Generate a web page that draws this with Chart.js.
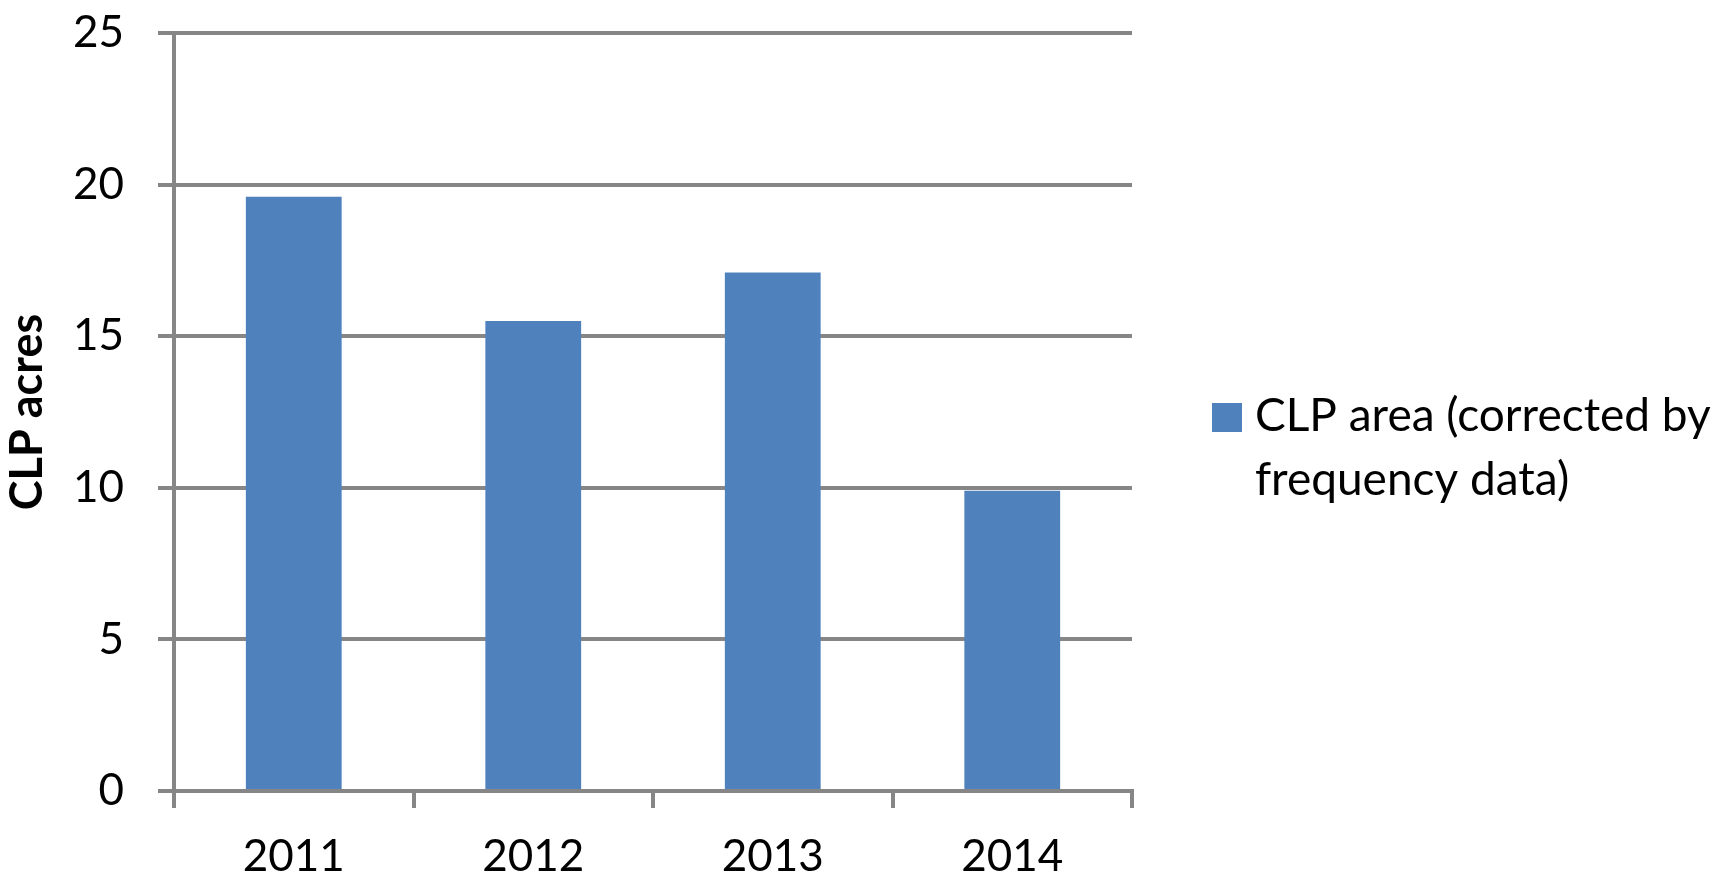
<!DOCTYPE html>
<html>
<head>
<meta charset="utf-8">
<script src="https://cdn.jsdelivr.net/npm/chart.js@4"></script>
<style>
html,body{margin:0;padding:0;background:#fff;}
#wrap{width:1729px;height:886px;position:relative;}
</style>
</head>
<body>
<div id="wrap"><canvas id="c" width="1729" height="886"></canvas></div>
<script>
const categories = ['2011', '2012', '2013', '2014'];
const clpArea = [19.6, 15.5, 17.1, 9.9];
const yTicks = [0, 5, 10, 15, 20, 25];
const seriesLabelLines = ['CLP area (corrected by', 'frequency data)'];
const yTitle = 'CLP acres';

const FONT = 'Lato, "Open Sans", sans-serif';
const GRID = '#868686';
const BAR = '#4F81BD';

const legendPlugin = {
  id: 'sideLegend',
  afterDraw(chart) {
    const ctx = chart.ctx;
    ctx.save();
    ctx.fillStyle = chart.data.datasets[0].backgroundColor;
    ctx.fillRect(1212, 403, 30, 29);
    ctx.fillStyle = '#000';
    ctx.font = '46px ' + FONT;
    ctx.textBaseline = 'alphabetic';
    ctx.textAlign = 'left';
    seriesLabelLines.forEach((t, i) => ctx.fillText(t, 1255, 431 + i * 64));
    ctx.restore();
  }
};

new Chart(document.getElementById('c'), {
  type: 'bar',
  data: {
    labels: categories,
    datasets: [{
      label: seriesLabelLines.join(' '),
      data: clpArea,
      backgroundColor: BAR,
      borderWidth: 0,
      barPercentage: 0.4,
      categoryPercentage: 1.0
    }]
  },
  options: {
    responsive: false,
    animation: false,
    devicePixelRatio: 1,
    layout: { padding: { left: 0, right: 597, top: 33, bottom: 0 } },
    plugins: { legend: { display: false }, tooltip: { enabled: false } },
    scales: {
      x: {
        grid: { offset: true, drawOnChartArea: false, drawTicks: true, tickLength: 17, color: GRID, lineWidth: 4 },
        border: { color: GRID, width: 4 },
        ticks: { color: '#000', font: { family: FONT, size: 44 }, padding: 22 },
        afterFit(s) { s.height = 95; s.paddingLeft = 0; s.paddingRight = 0; }
      },
      y: {
        min: 0, max: 25,
        afterBuildTicks(s) { s.ticks = yTicks.map(v => ({ value: v })); },
        grid: { drawTicks: true, tickLength: 16, color: GRID, lineWidth: 4 },
        border: { color: GRID, width: 4 },
        ticks: { color: '#000', font: { family: FONT, size: 44 }, padding: 34 },
        title: { display: true, text: yTitle, color: '#000', font: { family: FONT, size: 45, weight: 'bold' }, padding: 0 },
        afterFit(s) { s.width = 174; s.paddingTop = 0; s.paddingBottom = 0; }
      }
    }
  },
  plugins: [legendPlugin]
});
</script>
</body>
</html>
